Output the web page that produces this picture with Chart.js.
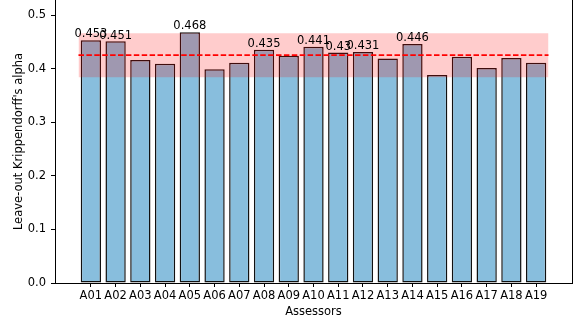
<!DOCTYPE html>
<html lang="en">
<head>
    <meta charset="UTF-8">
    <title>Leave-out Krippendorff's alpha</title>
    <style>
        body { margin: 0; background: #fff; }
        #chartBox { width: 577px; height: 324px; }
    </style>
</head>
<body>
    <div id="chartBox">
        <canvas id="myChart" width="577" height="324"></canvas>
    </div>
    <script src="https://cdn.jsdelivr.net/npm/chart.js"></script>
    <script>
        // data
        var assessors = ['A01', 'A02', 'A03', 'A04', 'A05', 'A06', 'A07', 'A08', 'A09', 'A10',
                         'A11', 'A12', 'A13', 'A14', 'A15', 'A16', 'A17', 'A18', 'A19'];
        var alphaValues = [0.453, 0.451, 0.416, 0.409, 0.468, 0.399, 0.411, 0.435, 0.424, 0.441,
                           0.430, 0.431, 0.419, 0.446, 0.388, 0.422, 0.401, 0.420, 0.411];
        var meanAlpha = 0.425;
        var bandLow = 0.384;
        var bandHigh = 0.466;
        var labelThreshold = 0.43;
        var yTicks = [0.0, 0.1, 0.2, 0.3, 0.4, 0.5];

        Chart.defaults.font.family = "'DejaVu Sans', sans-serif";
        Chart.defaults.font.size = 11.5;
        Chart.defaults.color = '#000';

        var first = -0.5, last = assessors.length - 0.5;

        // value labels above the higher bars
        var barLabels = {
            id: 'barLabels',
            afterDatasetsDraw: function (chart) {
                var ctx = chart.ctx;
                var meta = chart.getDatasetMeta(0);
                ctx.save();
                ctx.font = "11.5px 'DejaVu Sans'";
                ctx.fillStyle = '#000';
                ctx.textAlign = 'center';
                ctx.textBaseline = 'bottom';
                meta.data.forEach(function (bar, i) {
                    var v = alphaValues[i];
                    if (v >= labelThreshold) {
                        ctx.fillText(String(+v.toFixed(3)), bar.x, bar.y);
                    }
                });
                ctx.restore();
            }
        };

        // right spine
        var frame = {
            id: 'frame',
            afterDraw: function (chart) {
                var a = chart.chartArea, ctx = chart.ctx;
                ctx.save();
                ctx.strokeStyle = '#000';
                ctx.lineWidth = 1;
                ctx.beginPath();
                ctx.moveTo(Math.round(a.right) + 0.5, a.top);
                ctx.lineTo(Math.round(a.right) + 0.5, a.bottom);
                ctx.stroke();
                ctx.restore();
            }
        };

        var ctx = document.getElementById('myChart').getContext('2d');
        var myChart = new Chart(ctx, {
            data: {
                datasets: [{
                    type: 'bar',
                    data: alphaValues.map(function (v, i) { return {x: i, y: v}; }),
                    backgroundColor: '#88bedd',
                    borderColor: '#111',
                    borderWidth: 1.5,
                    borderSkipped: false,
                    categoryPercentage: 1,
                    barPercentage: 0.82,
                    order: 3
                }, {
                    type: 'line',
                    data: [{x: first, y: bandHigh}, {x: last, y: bandHigh}],
                    borderWidth: 0,
                    pointRadius: 0,
                    fill: '+1',
                    backgroundColor: 'rgba(255,0,0,0.2)',
                    order: 2
                }, {
                    type: 'line',
                    data: [{x: first, y: bandLow}, {x: last, y: bandLow}],
                    borderWidth: 0,
                    pointRadius: 0,
                    fill: false,
                    order: 2
                }, {
                    type: 'line',
                    data: [{x: first, y: meanAlpha}, {x: last, y: meanAlpha}],
                    borderColor: '#ff0000',
                    borderWidth: 1.8,
                    borderDash: [5.5, 2.4],
                    pointRadius: 0,
                    fill: false,
                    order: 0
                }]
            },
            options: {
                responsive: false,
                animation: false,
                layout: { padding: { left: 0, right: 5, top: 0, bottom: 0 } },
                plugins: {
                    legend: { display: false },
                    tooltip: { enabled: false }
                },
                scales: {
                    x: {
                        type: 'linear',
                        min: -1.45,
                        max: assessors.length - 1 + 1.45,
                        offset: false,
                        afterBuildTicks: function (axis) {
                            axis.ticks = assessors.map(function (_, i) { return {value: i}; });
                        },
                        afterFit: function (axis) {
                            axis.height = 41;
                            axis.paddingLeft = 0;
                            axis.paddingRight = 0;
                        },
                        ticks: {
                            autoSkip: false,
                            maxRotation: 0,
                            padding: 2,
                            callback: function (value) { return assessors[value]; }
                        },
                        grid: { drawOnChartArea: false, drawTicks: true, tickLength: 4, color: '#000', offset: false },
                        border: { display: true, color: '#000', width: 1 },
                        title: { display: true, text: 'Assessors', padding: { top: 0, bottom: 5 } }
                    },
                    y: {
                        min: 0,
                        max: 0.528,
                        afterBuildTicks: function (axis) {
                            axis.ticks = yTicks.map(function (v) { return {value: v}; });
                        },
                        afterFit: function (axis) {
                            axis.width = 55;
                            axis.paddingTop = 0;
                            axis.paddingBottom = 0;
                        },
                        ticks: {
                            padding: 5,
                            callback: function (value) { return value.toFixed(1); }
                        },
                        grid: { drawOnChartArea: false, drawTicks: true, tickLength: 4, color: '#000' },
                        border: { display: true, color: '#000', width: 1 },
                        title: { display: true, text: "Leave-out Krippendorff's alpha", padding: { top: 12, bottom: 0 } }
                    }
                }
            },
            plugins: [barLabels, frame]
        });
    </script>
</body>
</html>
